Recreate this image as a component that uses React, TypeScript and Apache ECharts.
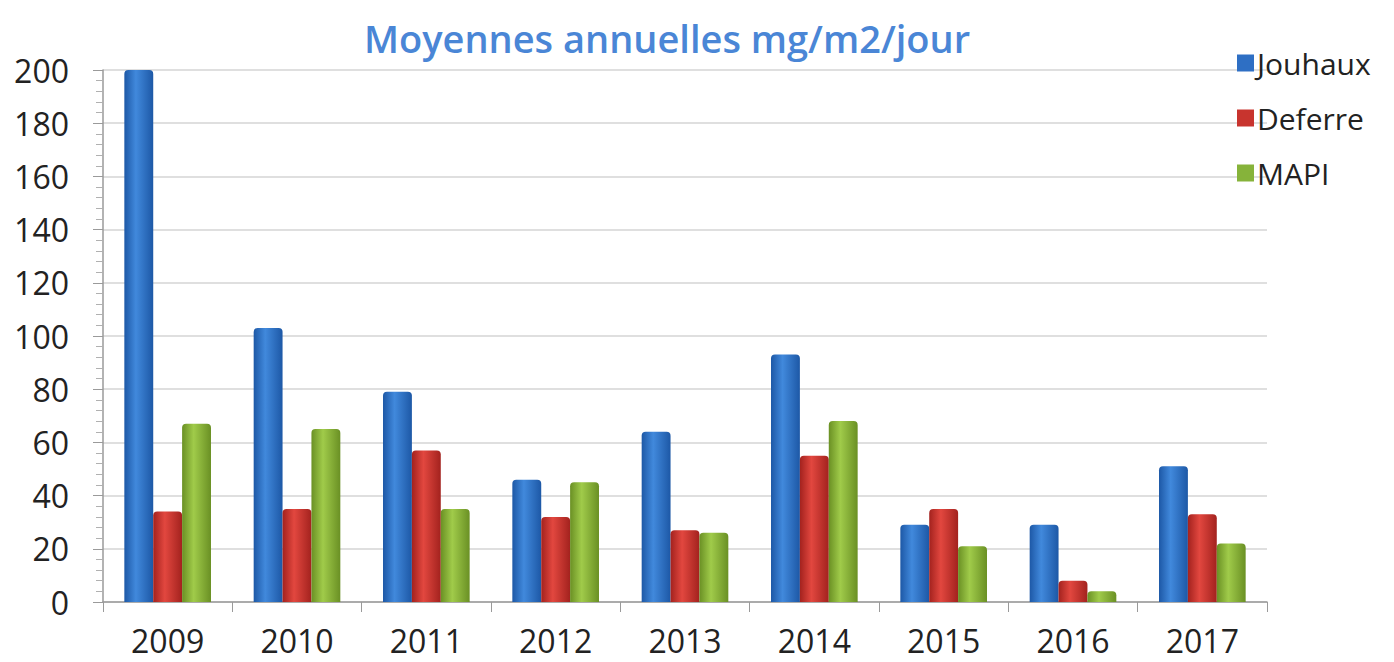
import React, { useEffect, useRef } from "react";
import * as echarts from "echarts";

const years = ["2009", "2010", "2011", "2012", "2013", "2014", "2015", "2016", "2017"];
const jouhaux = [200, 103, 79, 46, 64, 93, 29, 29, 51];
const deferre = [34, 35, 57, 32, 27, 55, 35, 8, 33];
const mapi = [67, 65, 35, 45, 26, 68, 21, 4, 22];
const yTicks = { min: 0, max: 200, interval: 20 };

function grad(edge: string, mid: string) {
  return new echarts.graphic.LinearGradient(0, 0, 1, 0, [
    { offset: 0, color: edge },
    { offset: 0.4, color: mid },
    { offset: 1, color: edge },
  ]);
}

export default function App() {
  const ref = useRef<HTMLDivElement>(null);
  useEffect(() => {
    document.body.style.margin = "0";
    const chart = echarts.init(ref.current!, null, { renderer: "svg" });
    const font = "'Open Sans', sans-serif";
    const mk = (name: string, data: number[], edge: string, mid: string, legendColor: string) => ({
      name,
      type: "bar",
      data,
      barGap: "0%",
      barCategoryGap: "33%",
      itemStyle: { color: grad(edge, mid), borderRadius: [4, 4, 0, 0] },
      legendColor,
    });
    const s1 = mk("Jouhaux", jouhaux, "#1d58a6", "#4189dc", "#2e6fc4");
    const s2 = mk("Deferre", deferre, "#a3221e", "#e2473f", "#c8342e");
    const s3 = mk("MAPI", mapi, "#6a9024", "#a0cb4a", "#86b33a");
    chart.setOption({
      animation: false,
      title: {
        text: "Moyennes annuelles mg/m2/jour",
        left: 662,
        textAlign: "center",
        top: 14,
        textStyle: { color: "#4a86d6", fontSize: 38, fontWeight: 600, fontFamily: font },
      },
      legend: {
        orient: "vertical",
        left: 1232,
        top: 43,
        itemWidth: 17,
        itemHeight: 17,
        itemGap: 25,
        icon: "rect",
        textStyle: { fontSize: 30, color: "#222", fontFamily: font, padding: [0, 0, 0, -2] },
        data: [
          { name: "Jouhaux", itemStyle: { color: s1.legendColor } },
          { name: "Deferre", itemStyle: { color: s2.legendColor } },
          { name: "MAPI", itemStyle: { color: s3.legendColor } },
        ],
      },
      grid: { left: 103, right: 127, top: 70, bottom: 60 },
      xAxis: {
        type: "category",
        data: years,
        axisLine: { show: true, lineStyle: { color: "#9a9a9a", width: 1.5 } },
        axisTick: { show: true, length: 10, lineStyle: { color: "#9a9a9a" } },
        axisLabel: { fontSize: 32, color: "#222", fontFamily: font, margin: 22 },
      },
      yAxis: {
        type: "value",
        min: yTicks.min,
        max: yTicks.max,
        interval: yTicks.interval,
        axisLine: { show: true, lineStyle: { color: "#9a9a9a", width: 1.5 } },
        axisTick: { show: true, length: 10, lineStyle: { color: "#9a9a9a" } },
        minorTick: { show: true, splitNumber: 5, length: 7, lineStyle: { color: "#b0b0b0" } },
        splitLine: { show: true, lineStyle: { color: "#d4d4d4", width: 1.5 } },
        axisLabel: { fontSize: 32, color: "#222", fontFamily: font, margin: 34 },
      },
      series: [s1, s2, s3].map(({ legendColor, ...s }) => s),
    });
    return () => chart.dispose();
  }, []);
  return <div ref={ref} style={{ width: 1394, height: 662 }} />;
}
